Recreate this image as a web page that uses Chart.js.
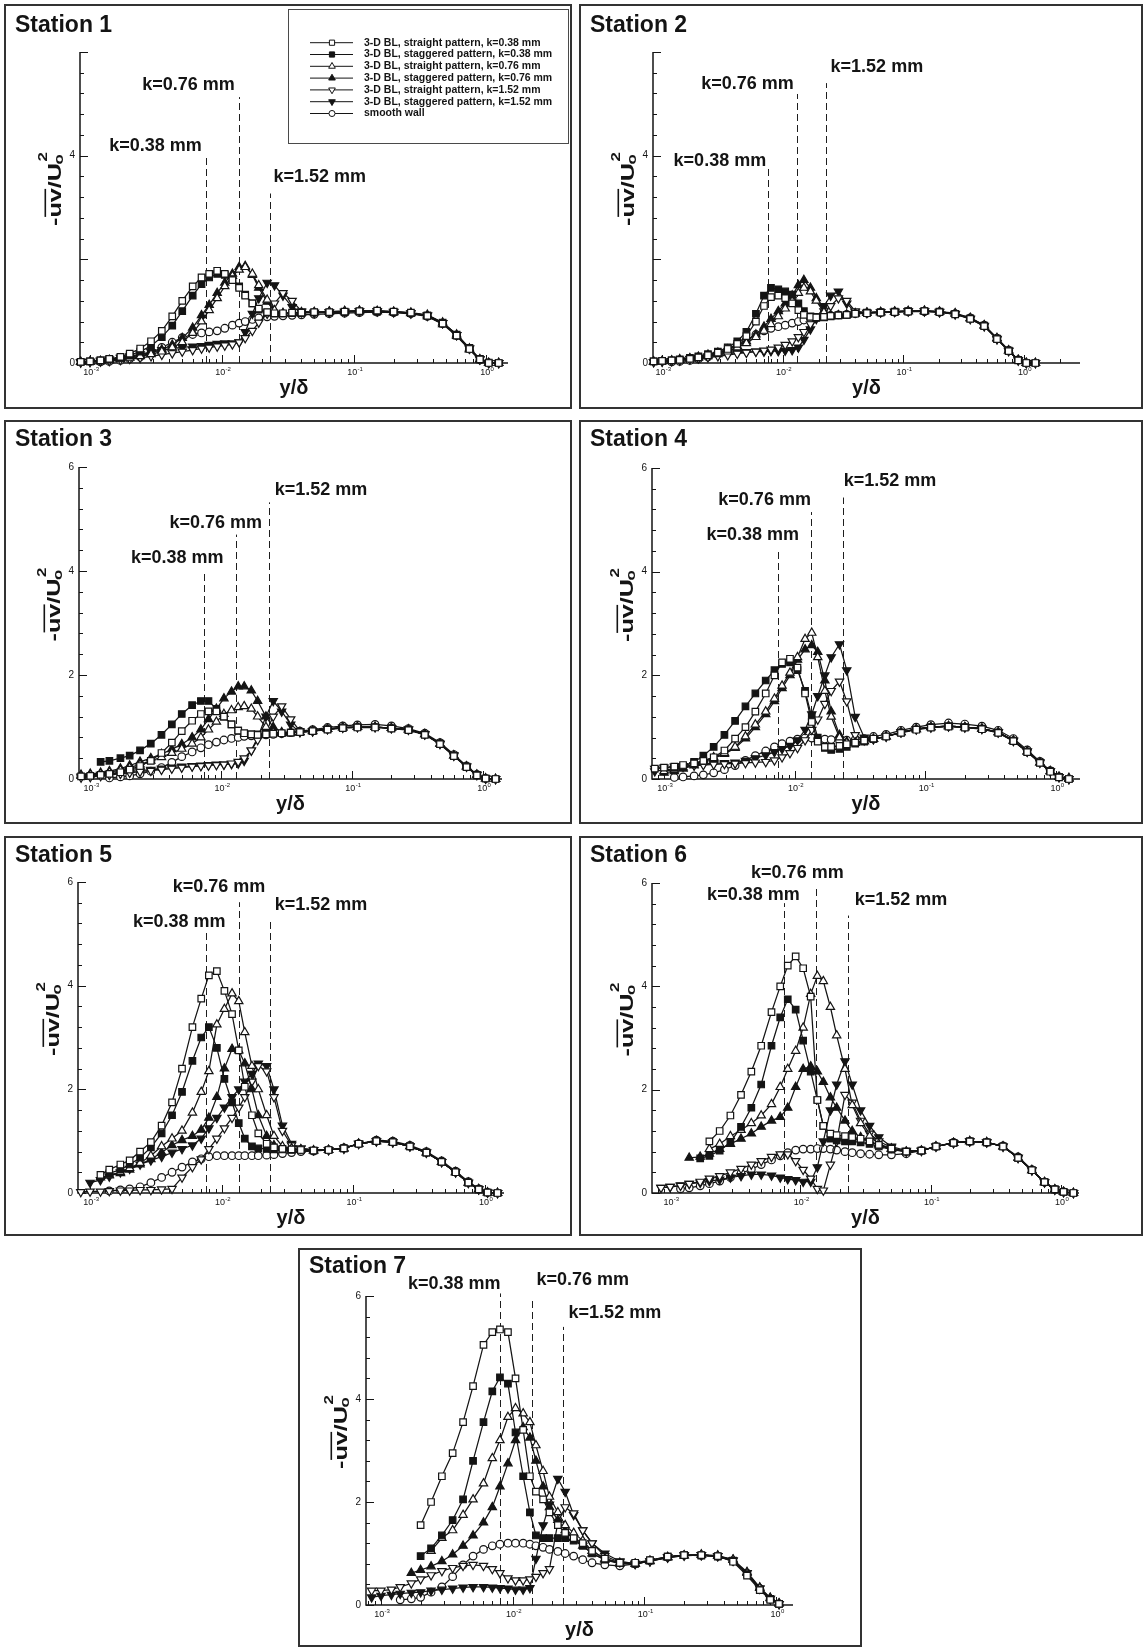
<!DOCTYPE html>
<html><head><meta charset="utf-8">
<script src="https://cdn.jsdelivr.net/npm/chart.js@4.4.1/dist/chart.umd.min.js"></script>
<style>
html,body{margin:0;padding:0;background:#fff}
body{width:1145px;height:1647px;position:relative;overflow:hidden}
</style></head><body>
<script>
const n = null;
// y/delta sample positions
const GRID = [0.00085,0.001,0.0012,0.0014,0.0017,0.002,0.0024,0.0029,0.0035,0.0042,
0.005,0.006,0.007,0.008,0.0092,0.0105,0.012,0.0135,0.015,0.017,
0.019,0.022,0.025,0.029,0.034,0.04,0.05,0.065,0.085,0.11,
0.15,0.2,0.27,0.36,0.47,0.6,0.75,0.9,1.05,1.25];

const seriesNames = ['3-D BL, straight pattern, k=0.38 mm','3-D BL, staggered pattern, k=0.38 mm',
'3-D BL, straight pattern, k=0.76 mm','3-D BL, staggered pattern, k=0.76 mm',
'3-D BL, straight pattern, k=1.52 mm','3-D BL, staggered pattern, k=1.52 mm','smooth wall'];
const stationTitles = ['Station 1','Station 2','Station 3','Station 4','Station 5','Station 6','Station 7'];
const kLabels = ['k=0.38 mm','k=0.76 mm','k=1.52 mm'];
const xTickExp = [-3,-2,-1,0];
const yTickLabels = [[0,4],[0,4],[0,2,4,6],[0,2,4,6],[0,2,4,6],[0,2,4,6],[0,2,4,6]];
const xMin = [0.00084,0.00084,0.00082,0.00081,0.00081,0.000725,0.00077];
const xMax = [1.47,2.93,1.4,1.52,1.4,1.38,1.34];
const kX = [[0.0076,0.0135,0.0233],[0.0075,0.0132,0.0227],[0.0074,0.0131,0.0231],[0.0075,0.0134,0.0233],[0.0076,0.0135,0.0232],[0.0075,0.0132,0.0231],[0.008,0.0141,0.0239]];
const kTop = [[3.97,5.13,3.27],[3.79,5.19,5.4],[3.97,4.7,5.32],[4.42,5.15,5.43],[5.08,5.61,5.27],[5.61,5.91,5.37],[6.05,5.97,5.4]];
const kLabelY = [[4.19,5.36,3.58],[3.9,5.39,5.71],[4.25,4.92,5.56],[4.7,5.39,5.74],[5.22,5.9,5.56],[5.77,6.2,5.67],[6.23,6.31,5.66]];

// ---------- Station 1 ----------
const s1_str038 = [0.02,0.03,0.05,0.08,0.12,0.18,0.28,0.42,0.62,0.9, 1.2,1.48,1.65,1.72,1.78,1.72,1.6,1.45,1.3,1.15, 1.05,0.98,0.96,0.96,0.97,0.97,0.98,0.98,0.99,1.0, 1.01,0.99,0.97,0.91,0.76,0.53,0.27,0.07,0.0,0.0];
const s1_stg038 = [0.02,0.03,0.05,0.07,0.1,0.15,0.22,0.33,0.5,0.72, 1.0,1.3,1.52,1.65,1.72,1.7,1.62,1.48,1.32,1.15, 1.03,0.97,0.95,0.95,0.96,0.96,0.97,0.97,0.98,0.99, 0.99,0.98,0.96,0.92,0.78,0.55,0.29,0.08,0.01,0.0];
const s1_str076 = [0.02,0.02,0.03,0.05,0.07,0.1,0.13,0.17,0.22,0.3, 0.4,0.58,0.8,1.02,1.25,1.48,1.68,1.8,1.85,1.72, 1.5,1.22,1.02,0.96,0.96,0.97,0.98,0.99,1.0,1.0, 1.0,0.99,0.96,0.9,0.75,0.52,0.26,0.06,0.0,0.0];
const s1_stg076 = [0.02,0.03,0.04,0.06,0.08,0.11,0.15,0.2,0.26,0.35, 0.48,0.68,0.92,1.12,1.35,1.55,1.72,1.85,1.87,1.7, 1.45,1.18,1.0,0.96,0.97,0.98,0.98,0.99,1.0,1.01, 1.0,0.98,0.97,0.93,0.78,0.55,0.28,0.07,0.0,0.0];
const s1_str152 = [0.01,0.02,0.03,0.04,0.06,0.08,0.1,0.13,0.16,0.19, 0.22,0.25,0.28,0.3,0.32,0.34,0.36,0.4,0.48,0.62, 0.78,0.95,1.15,1.35,1.2,1.0,0.97,0.98,0.99,1.0, 1.0,0.99,0.96,0.91,0.77,0.54,0.28,0.07,0.0,0.0];
const s1_stg152 = [0.02,0.03,0.05,0.07,0.1,0.13,0.17,0.21,0.25,0.28, 0.3,0.32,0.33,0.35,0.37,0.38,0.38,0.4,0.6,0.95, 1.25,1.55,1.5,1.3,1.08,0.98,0.97,0.98,0.99,1.0, 1.0,0.98,0.96,0.92,0.77,0.54,0.28,0.07,0.0,0.0];
const s1_smooth = [n,n,0.02,0.03,0.05,0.08,0.12,0.2,0.3,0.4, 0.49,0.55,0.58,0.6,0.62,0.67,0.73,0.77,0.8,0.84, 0.87,0.89,0.9,0.91,0.92,0.93,0.94,0.95,0.96,0.97, 0.98,0.97,0.95,0.9,0.76,0.53,0.27,0.06,0.0,n];
// ---------- Station 2 ----------
const s2_str038 = [0.03,0.04,0.05,0.06,0.08,0.11,0.15,0.2,0.27,0.37, 0.52,0.8,1.1,1.27,1.3,1.25,1.15,1.02,0.93,0.89, 0.88,0.89,0.91,0.92,0.93,0.95,0.96,0.97,0.98,0.99, 1.0,0.98,0.94,0.85,0.71,0.46,0.23,0.05,0.0,0.0];
const s2_stg038 = [0.03,0.04,0.05,0.07,0.1,0.13,0.17,0.22,0.3,0.42, 0.6,0.95,1.3,1.45,1.42,1.38,1.32,1.15,1.0,0.9, 0.87,0.88,0.9,0.92,0.93,0.96,0.97,0.98,0.99,1.0, 1.0,0.99,0.95,0.86,0.72,0.47,0.24,0.06,0.0,0.0];
const s2_str076 = [0.02,0.03,0.04,0.06,0.08,0.1,0.13,0.17,0.22,0.3, 0.38,0.5,0.62,0.75,0.9,1.05,1.2,1.35,1.45,1.38, 1.2,0.98,0.9,0.91,0.93,0.95,0.97,0.98,0.99,1.0, 1.0,0.99,0.96,0.87,0.73,0.48,0.24,0.06,0.0,0.0];
const s2_stg076 = [0.03,0.04,0.05,0.07,0.09,0.12,0.16,0.2,0.26,0.33, 0.42,0.55,0.7,0.85,1.0,1.15,1.3,1.5,1.6,1.45, 1.25,1.0,0.92,0.92,0.93,0.96,0.97,0.98,0.99,1.0, 1.01,0.99,0.95,0.86,0.72,0.47,0.24,0.06,0.0,0.0];
const s2_str152 = [0.02,0.03,0.04,0.05,0.07,0.09,0.11,0.13,0.15,0.18, 0.2,0.22,0.24,0.26,0.3,0.35,0.42,0.5,0.6,0.75, 0.9,1.0,1.1,1.25,1.2,1.0,0.97,0.98,0.99,1.0, 1.0,0.98,0.94,0.85,0.71,0.46,0.23,0.05,0.0,0.0];
const s2_stg152 = [0.02,0.03,0.04,0.06,0.08,0.1,0.13,0.16,0.18,0.2, 0.21,0.22,0.22,0.23,0.23,0.24,0.25,0.3,0.45,0.65, 0.85,1.1,1.3,1.38,1.15,0.98,0.97,0.98,0.99,1.0, 1.0,0.99,0.95,0.86,0.72,0.47,0.24,0.06,0.0,0.0];
const s2_smooth = [n,n,0.02,0.03,0.05,0.08,0.12,0.18,0.26,0.36, 0.45,0.55,0.62,0.67,0.7,0.73,0.77,0.8,0.83,0.86, 0.88,0.9,0.92,0.93,0.94,0.95,0.96,0.97,0.98,0.99, 0.99,0.98,0.95,0.87,0.73,0.48,0.25,0.06,0.0,n];
// ---------- Station 3 ----------
const s3_str038 = [0.05,0.06,0.08,0.1,0.13,0.18,0.25,0.35,0.5,0.7, 0.92,1.12,1.25,1.3,1.3,1.2,1.05,0.93,0.88,0.86, 0.85,0.86,0.87,0.88,0.89,0.9,0.92,0.95,0.98,0.99, 0.99,0.97,0.94,0.85,0.67,0.44,0.23,0.07,0.01,0.0];
const s3_stg038 = [n,n,0.33,0.35,0.4,0.45,0.55,0.68,0.85,1.05, 1.25,1.42,1.5,1.5,1.35,1.2,1.05,0.93,0.88,0.86, 0.86,0.87,0.88,0.88,0.89,0.9,0.92,0.96,0.99,1.0, 1.0,0.98,0.95,0.86,0.68,0.45,0.24,0.08,0.01,0.0];
const s3_str076 = [0.06,0.08,0.1,0.13,0.17,0.22,0.28,0.35,0.42,0.5, 0.58,0.68,0.8,0.95,1.1,1.25,1.32,1.38,1.4,1.35, 1.2,1.0,0.9,0.88,0.89,0.9,0.93,0.96,0.99,1.0, 1.0,0.98,0.95,0.86,0.68,0.45,0.24,0.08,0.01,0.0];
const s3_stg076 = [0.08,0.1,0.12,0.15,0.2,0.26,0.33,0.4,0.48,0.57, 0.67,0.8,0.95,1.15,1.35,1.55,1.68,1.78,1.78,1.7, 1.5,1.2,1.0,0.9,0.89,0.9,0.92,0.96,0.99,1.0, 1.0,0.98,0.95,0.86,0.68,0.45,0.24,0.08,0.01,0.0];
const s3_str152 = [0.03,0.04,0.06,0.08,0.1,0.12,0.14,0.16,0.18,0.2, 0.22,0.24,0.25,0.26,0.27,0.28,0.3,0.33,0.4,0.55, 0.75,0.9,1.2,1.4,1.15,0.92,0.92,0.96,0.99,1.0, 1.0,0.98,0.95,0.86,0.68,0.45,0.24,0.08,0.01,0.0];
const s3_stg152 = [0.05,0.06,0.08,0.1,0.12,0.14,0.16,0.18,0.2,0.22, 0.24,0.25,0.26,0.27,0.28,0.28,0.29,0.3,0.35,0.55, 0.8,1.2,1.5,1.3,1.05,0.9,0.92,0.96,0.99,1.0, 1.0,0.98,0.95,0.86,0.68,0.45,0.24,0.08,0.01,0.0];
const s3_smooth = [n,n,n,0.02,0.04,0.06,0.1,0.15,0.22,0.32, 0.43,0.52,0.6,0.66,0.71,0.75,0.78,0.8,0.82,0.83, 0.84,0.85,0.86,0.87,0.89,0.92,0.95,0.99,1.02,1.04, 1.05,1.02,0.97,0.88,0.7,0.47,0.25,0.09,0.01,n];
// ---------- Station 4 ----------
const s4_str038 = [0.2,0.22,0.24,0.27,0.3,0.35,0.42,0.55,0.78,1.0, 1.3,1.65,2.0,2.25,2.32,2.15,1.65,1.1,0.72,0.62, 0.62,0.64,0.67,0.7,0.74,0.78,0.82,0.89,0.95,0.99, 1.01,0.99,0.96,0.89,0.73,0.52,0.31,0.14,0.03,0.0];
const s4_stg038 = [n,n,0.22,0.25,0.33,0.45,0.62,0.85,1.12,1.4, 1.65,1.9,2.1,2.22,2.25,2.1,1.7,1.2,0.8,0.6, 0.56,0.58,0.62,0.68,0.72,0.77,0.82,0.9,0.96,1.0, 1.02,1.0,0.97,0.9,0.74,0.53,0.32,0.15,0.04,0.0];
const s4_str076 = [n,0.15,0.18,0.22,0.28,0.35,0.42,0.5,0.62,0.82, 1.05,1.3,1.55,1.8,2.05,2.35,2.7,2.82,2.35,1.7, 1.2,0.8,0.7,0.7,0.73,0.77,0.82,0.9,0.96,1.0, 1.02,1.0,0.97,0.9,0.74,0.53,0.32,0.15,0.04,0.0];
const s4_stg076 = [n,0.12,0.15,0.2,0.26,0.33,0.4,0.48,0.6,0.78, 1.0,1.25,1.5,1.75,2.0,2.3,2.5,2.58,2.45,1.9, 1.3,0.85,0.72,0.7,0.73,0.77,0.82,0.9,0.96,1.0, 1.02,1.0,0.97,0.9,0.74,0.53,0.32,0.15,0.04,0.02];
const s4_str152 = [0.2,0.22,0.24,0.25,0.26,0.27,0.28,0.29,0.3,0.31, 0.32,0.33,0.36,0.42,0.5,0.6,0.75,0.95,1.15,1.45, 1.7,1.88,1.5,0.85,0.75,0.77,0.82,0.9,0.96,1.0, 1.02,1.0,0.97,0.9,0.74,0.53,0.32,0.15,0.04,0.0];
const s4_stg152 = [0.15,0.17,0.2,0.24,0.27,0.29,0.3,0.31,0.32,0.35, 0.4,0.46,0.52,0.58,0.64,0.75,0.95,1.25,1.6,2.0, 2.35,2.6,2.1,1.2,0.8,0.77,0.82,0.9,0.96,1.0, 1.02,1.0,0.97,0.9,0.74,0.53,0.32,0.15,0.04,0.0];
const s4_smooth = [n,n,0.03,0.04,0.06,0.08,0.12,0.18,0.26,0.36, 0.45,0.54,0.62,0.68,0.73,0.77,0.79,0.79,0.78,0.77, 0.76,0.75,0.75,0.76,0.78,0.82,0.86,0.94,1.0,1.05, 1.08,1.06,1.02,0.94,0.78,0.56,0.34,0.16,0.04,n];
// ---------- Station 5 ----------
const s5_str038 = [n,n,0.35,0.45,0.55,0.63,0.8,0.98,1.3,1.75, 2.4,3.2,3.75,4.2,4.28,3.9,3.45,2.75,2.05,1.5, 1.15,0.95,0.88,0.85,0.84,0.83,0.82,0.83,0.86,0.95, 1.0,0.98,0.9,0.78,0.6,0.4,0.2,0.07,0.01,0.0];
const s5_stg038 = [n,n,n,0.38,0.45,0.55,0.68,0.88,1.15,1.5, 1.95,2.55,3.0,3.2,2.8,2.2,1.75,1.35,1.05,0.9, 0.86,0.85,0.84,0.84,0.83,0.83,0.82,0.83,0.86,0.95, 1.0,0.98,0.9,0.78,0.6,0.4,0.2,0.07,0.01,0.0];
const s5_str076 = [n,n,n,0.35,0.4,0.48,0.58,0.72,0.9,1.05, 1.2,1.55,1.95,2.35,3.25,3.55,3.85,3.7,3.1,2.45, 2.0,1.5,1.1,0.9,0.86,0.84,0.82,0.83,0.86,0.95, 1.0,0.98,0.9,0.78,0.6,0.4,0.2,0.07,0.01,0.0];
const s5_stg076 = [n,n,0.3,0.34,0.38,0.45,0.55,0.65,0.78,0.92, 1.02,1.1,1.22,1.45,1.85,2.4,2.78,2.75,2.5,2.0, 1.5,1.1,0.92,0.87,0.85,0.84,0.82,0.83,0.86,0.95, 1.0,0.98,0.9,0.78,0.6,0.4,0.2,0.07,0.01,0.0];
const s5_str152 = [0.02,0.03,0.03,0.04,0.05,0.05,0.06,0.06,0.07,0.08, 0.3,0.5,0.65,0.85,1.05,1.25,1.45,1.65,1.85,2.15, 2.45,2.35,1.85,1.2,0.92,0.86,0.83,0.83,0.86,0.95, 1.0,0.98,0.9,0.78,0.6,0.4,0.2,0.07,0.01,0.0];
const s5_stg152 = [n,0.2,0.25,0.32,0.4,0.47,0.55,0.63,0.7,0.78, 0.85,0.92,1.05,1.25,1.45,1.65,1.85,2.0,2.15,2.3, 2.5,2.45,2.0,1.3,0.95,0.86,0.83,0.83,0.86,0.95, 1.0,0.98,0.9,0.78,0.6,0.4,0.2,0.07,0.01,0.0];
const s5_smooth = [n,n,n,0.04,0.06,0.08,0.12,0.2,0.3,0.4, 0.5,0.6,0.66,0.7,0.72,0.72,0.72,0.72,0.72,0.72, 0.72,0.73,0.74,0.76,0.78,0.8,0.81,0.83,0.87,0.95, 1.02,1.0,0.92,0.8,0.62,0.42,0.22,0.08,0.01,n];
// ---------- Station 6 ----------
const s6_str038 = [n,n,n,n,n,1.0,1.2,1.5,1.9,2.35, 2.85,3.5,4.0,4.4,4.58,4.35,3.8,1.8,1.3,1.15, 1.12,1.1,1.08,1.05,1.0,0.93,0.86,0.8,0.82,0.9, 0.97,1.0,0.98,0.9,0.68,0.44,0.21,0.07,0.02,0.0];
const s6_stg038 = [n,n,n,n,0.67,0.72,0.82,0.98,1.28,1.65, 2.1,2.85,3.4,3.75,3.55,2.95,2.35,1.8,1.3,1.05, 1.02,1.0,1.0,0.98,0.95,0.9,0.84,0.8,0.82,0.9, 0.97,1.0,0.98,0.9,0.68,0.44,0.21,0.07,0.02,0.0];
const s6_str076 = [n,n,n,n,n,0.85,0.95,1.1,1.22,1.35, 1.5,1.72,2.05,2.4,2.75,3.2,3.85,4.2,4.1,3.6, 3.05,2.4,1.7,1.35,1.1,0.95,0.86,0.8,0.82,0.9, 0.97,1.0,0.98,0.9,0.68,0.44,0.21,0.07,0.02,0.0];
const s6_stg076 = [n,n,n,0.68,0.7,0.76,0.85,0.95,1.05,1.15, 1.28,1.4,1.47,1.65,2.05,2.4,2.45,2.35,2.15,1.85, 1.65,1.4,1.2,1.08,1.0,0.92,0.85,0.8,0.82,0.9, 0.97,1.0,0.98,0.9,0.68,0.44,0.21,0.07,0.02,0.0];
const s6_str152 = [0.1,0.12,0.14,0.18,0.22,0.28,0.33,0.4,0.47,0.55, 0.62,0.7,0.75,0.75,0.62,0.45,0.28,0.08,0.05,0.55, 1.0,1.9,1.75,1.4,1.15,1.0,0.88,0.8,0.82,0.9, 0.97,1.0,0.98,0.9,0.68,0.44,0.21,0.07,0.02,0.0];
const s6_stg152 = [0.1,0.12,0.15,0.18,0.2,0.23,0.26,0.3,0.33,0.36, 0.36,0.34,0.3,0.27,0.25,0.22,0.22,0.5,1.0,1.6, 2.1,2.55,2.1,1.6,1.3,1.08,0.9,0.82,0.82,0.9, 0.97,1.0,0.98,0.9,0.68,0.44,0.21,0.07,0.02,0.0];
const s6_smooth = [n,n,0.08,0.1,0.14,0.18,0.23,0.3,0.38,0.46, 0.55,0.64,0.72,0.78,0.83,0.85,0.85,0.86,0.86,0.85, 0.83,0.8,0.78,0.76,0.75,0.74,0.74,0.76,0.82,0.9, 0.98,1.0,0.98,0.91,0.7,0.45,0.21,0.07,0.02,n];
// ---------- Station 7 ----------
const s7_str038 = [n,n,n,n,n,1.55,2.0,2.5,2.95,3.55, 4.25,5.05,5.3,5.35,5.3,4.4,3.4,2.5,2.2,2.05, 1.8,1.55,1.4,1.3,1.2,1.05,0.9,0.82,0.82,0.87, 0.94,0.97,0.97,0.95,0.84,0.57,0.29,0.1,0.02,n];
const s7_stg038 = [n,n,n,n,n,0.95,1.1,1.35,1.65,2.05, 2.8,3.55,4.15,4.42,4.3,3.35,2.5,1.8,1.35,1.3, 1.3,1.3,1.3,1.25,1.15,1.0,0.88,0.82,0.8,0.86, 0.94,0.97,0.96,0.94,0.86,0.6,0.3,0.12,0.02,n];
const s7_str076 = [n,n,n,n,n,n,1.05,1.3,1.45,1.75, 2.05,2.36,2.85,3.2,3.65,3.82,3.72,3.55,3.1,2.6, 2.1,1.8,1.55,1.4,1.25,1.05,0.9,0.82,0.8,0.86, 0.93,0.96,0.97,0.95,0.88,0.62,0.33,0.13,0.03,n];
const s7_stg076 = [n,n,n,n,0.62,0.68,0.75,0.85,0.98,1.15, 1.35,1.6,1.9,2.3,2.75,3.2,3.45,3.25,2.8,2.3, 1.9,1.65,1.45,1.3,1.15,1.0,0.88,0.8,0.8,0.85, 0.92,0.96,0.98,0.96,0.88,0.64,0.34,0.14,0.03,n];
const s7_str152 = [0.28,0.28,0.3,0.35,0.42,0.5,0.58,0.66,0.72,0.76, 0.78,0.76,0.7,0.62,0.52,0.48,0.48,0.5,0.55,0.62, 0.7,1.6,1.9,1.78,1.45,1.2,0.95,0.83,0.8,0.85, 0.93,0.97,0.97,0.95,0.86,0.62,0.32,0.12,0.02,n];
const s7_stg152 = [0.15,0.18,0.2,0.22,0.24,0.25,0.28,0.3,0.32,0.34, 0.35,0.35,0.34,0.33,0.32,0.3,0.3,0.33,0.9,1.55, 1.95,2.45,2.2,1.75,1.45,1.2,1.0,0.85,0.8,0.85, 0.92,0.96,0.97,0.95,0.87,0.62,0.32,0.12,0.02,n];
const s7_smooth = [n,n,n,0.1,0.12,0.15,0.25,0.35,0.55,0.78, 0.95,1.08,1.15,1.18,1.2,1.2,1.2,1.18,1.15,1.12, 1.08,1.04,1.0,0.95,0.88,0.82,0.78,0.76,0.8,0.86, 0.93,0.97,0.97,0.95,0.85,0.62,0.32,0.12,0.02,n];

const SERIES = [
 [s1_str038,s1_stg038,s1_str076,s1_stg076,s1_str152,s1_stg152,s1_smooth],
 [s2_str038,s2_stg038,s2_str076,s2_stg076,s2_str152,s2_stg152,s2_smooth],
 [s3_str038,s3_stg038,s3_str076,s3_stg076,s3_str152,s3_stg152,s3_smooth],
 [s4_str038,s4_stg038,s4_str076,s4_stg076,s4_str152,s4_stg152,s4_smooth],
 [s5_str038,s5_stg038,s5_str076,s5_stg076,s5_str152,s5_stg152,s5_smooth],
 [s6_str038,s6_stg038,s6_str076,s6_stg076,s6_str152,s6_stg152,s6_smooth],
 [s7_str038,s7_stg038,s7_str076,s7_stg076,s7_str152,s7_stg152,s7_smooth]
];

// ---------- layout & styles ----------
const PANELS = [
 {x:4,  y:4,    w:568, h:405, L:76, R:504, T:48, B:359, tb:28, kdx:[-97,-97,3]},
 {x:579,y:4,    w:564, h:405, L:74, R:501, T:48, B:359, tb:28, kdx:[-94,-96,5]},
 {x:4,  y:420,  w:568, h:404, L:75, R:498, T:47, B:359, tb:26, kdx:[-73,-67,6]},
 {x:579,y:420,  w:564, h:404, L:73, R:501, T:48, B:359, tb:26, kdx:[-72,-93,1]},
 {x:4,  y:836,  w:568, h:400, L:74, R:500, T:46, B:357, tb:26, kdx:[-73,-66,5]},
 {x:579,y:836,  w:564, h:400, L:73, R:500, T:47, B:357, tb:26, kdx:[-77,-65,7]},
 {x:298,y:1248, w:564, h:399, L:68, R:495, T:48, B:357, tb:25, kdx:[-92,4,6]}
];
const MARK = [
 {ps:'rect', fill:false, rot:0, r:4.6},
 {ps:'rect', fill:true, rot:0, r:4.6},
 {ps:'triangle', fill:false, rot:0, r:4.8},
 {ps:'triangle', fill:true, rot:0, r:4.8},
 {ps:'triangle', fill:false, rot:180, r:4.8},
 {ps:'triangle', fill:true, rot:180, r:4.8},
 {ps:'circle', fill:false, rot:0, r:3.8}
];
const FONT = '"Liberation Sans", Arial, Helvetica, sans-serif';
const INK = '#141414';

function drawYTitle(ctx, cx, cy){
  ctx.save();
  ctx.translate(cx, cy);
  ctx.rotate(-Math.PI/2);
  ctx.scale(1.4, 1);
  const big = 'bold 18px ' + FONT, small = 'bold 12px ' + FONT;
  ctx.font = big;
  const w1 = ctx.measureText('-').width, w2 = ctx.measureText('uv').width, w3 = ctx.measureText('/U').width;
  ctx.font = small;
  const w4 = ctx.measureText('o').width, w5 = ctx.measureText('2').width;
  let x = -(w1 + w2 + w3 + w4 + w5 * 0.4) / 2;
  const base = 6.5;
  ctx.fillStyle = INK; ctx.textAlign = 'left'; ctx.textBaseline = 'alphabetic';
  ctx.font = big;
  ctx.fillText('-', x, base); x += w1;
  ctx.fillText('uv', x, base);
  ctx.fillRect(x + 0.5, base - 16, w2 - 1, 1.6);
  x += w2;
  ctx.fillText('/U', x, base); x += w3;
  ctx.font = small;
  ctx.fillText('o', x - 1, base + 2);
  ctx.fillText('2', x + 1, base - 14);
  ctx.restore();
}

function makeDeco(si){
  const m = PANELS[si];
  return {
    id: 'deco' + si,
    beforeDatasetsDraw(chart){
      const ctx = chart.ctx, ca = chart.chartArea, xs = chart.scales.x, ys = chart.scales.y;
      ctx.save();
      // panel frame
      ctx.strokeStyle = '#333'; ctx.lineWidth = 2; ctx.setLineDash([]);
      ctx.strokeRect(1, 1, chart.width - 2, chart.height - 2);
      // title
      ctx.fillStyle = INK; ctx.font = 'bold 23px ' + FONT; ctx.textAlign = 'left'; ctx.textBaseline = 'alphabetic';
      ctx.fillText(stationTitles[si], 11, m.tb);
      // dashed roughness lines and labels
      ctx.strokeStyle = '#1e1e1e'; ctx.lineWidth = 1; ctx.setLineDash([7, 4]);
      for (let j = 0; j < 3; j++){
        const px = Math.round(xs.getPixelForValue(kX[si][j])) + 0.5;
        const pt = ys.getPixelForValue(kTop[si][j]);
        ctx.beginPath(); ctx.moveTo(px, ca.bottom); ctx.lineTo(px, pt); ctx.stroke();
      }
      ctx.setLineDash([]);
      ctx.font = 'bold 18px ' + FONT; ctx.textBaseline = 'middle'; ctx.textAlign = 'left'; ctx.fillStyle = INK;
      for (let j = 0; j < 3; j++){
        const px = xs.getPixelForValue(kX[si][j]);
        ctx.fillText(kLabels[j], px + m.kdx[j], ys.getPixelForValue(kLabelY[si][j]));
      }
      // axes
      ctx.strokeStyle = INK; ctx.lineWidth = 1.5;
      ctx.beginPath(); ctx.moveTo(ca.left, ca.top); ctx.lineTo(ca.left, ca.bottom); ctx.lineTo(ca.right, ca.bottom); ctx.stroke();
      ctx.lineWidth = 1;
      for (let i = 0; i <= 15; i++){
        const py = Math.round(ys.getPixelForValue(i * 0.4)) + 0.5;
        const len = i % 5 === 0 ? 8 : 4;
        ctx.beginPath(); ctx.moveTo(ca.left, py); ctx.lineTo(ca.left + len, py); ctx.stroke();
      }
      for (let e = -4; e <= 1; e++){
        for (let k = 1; k <= 9; k++){
          const v = k * Math.pow(10, e);
          if (v < xs.min * 1.0001 || v > xs.max * 0.9999) continue;
          const px = Math.round(xs.getPixelForValue(v)) + 0.5;
          const len = k === 1 ? 8 : 4;
          ctx.beginPath(); ctx.moveTo(px, ca.bottom); ctx.lineTo(px, ca.bottom - len); ctx.stroke();
        }
      }
      // tick labels
      ctx.fillStyle = INK; ctx.font = '10px ' + FONT; ctx.textAlign = 'right'; ctx.textBaseline = 'middle';
      yTickLabels[si].forEach(v => ctx.fillText(String(v), ca.left - 5, ys.getPixelForValue(v)));
      ctx.textAlign = 'left'; ctx.textBaseline = 'alphabetic';
      xTickExp.forEach(e => {
        const px = xs.getPixelForValue(Math.pow(10, e));
        ctx.font = '9px ' + FONT; const w = ctx.measureText('10').width;
        const es = String(e);
        ctx.font = '6px ' + FONT; const we = ctx.measureText(es).width;
        const x0 = px - (w + we) / 2 + 1;
        ctx.font = '9px ' + FONT; ctx.fillText('10', x0, ca.bottom + 12);
        ctx.font = '6px ' + FONT; ctx.fillText(es, x0 + w + 0.3, ca.bottom + 8);
      });
      // axis titles
      ctx.font = 'bold 20px ' + FONT; ctx.textAlign = 'center'; ctx.textBaseline = 'alphabetic';
      ctx.fillText('y/\u03B4', (ca.left + ca.right) / 2, ca.bottom + 31);
      drawYTitle(ctx, ca.left - 26, (ca.top + ca.bottom) / 2 - 20);
      ctx.restore();
    },
    afterDatasetsDraw(chart){
      if (si !== 0) return;
      const ctx = chart.ctx;
      ctx.save();
      ctx.fillStyle = '#fff';
      ctx.strokeStyle = '#4a4a4a'; ctx.lineWidth = 1; ctx.setLineDash([]);
      ctx.fillRect(284.5, 5.5, 280, 134);
      ctx.strokeRect(284.5, 5.5, 280, 134);
      ctx.font = 'bold 10.5px ' + FONT; ctx.textAlign = 'left'; ctx.textBaseline = 'middle';
      seriesNames.forEach((name, k) => {
        const y = 38.7 + k * 11.8;
        ctx.strokeStyle = INK; ctx.lineWidth = 1;
        ctx.beginPath(); ctx.moveTo(306, y); ctx.lineTo(349, y); ctx.stroke();
        const st = MARK[k];
        ctx.fillStyle = st.fill ? INK : '#fff';
        Chart.helpers.drawPoint(ctx, {pointStyle: st.ps, rotation: st.rot, radius: st.r * 0.8, borderWidth: 1}, 328, y);
        ctx.fillStyle = INK;
        ctx.fillText(name, 360, y);
      });
      ctx.restore();
    }
  };
}

PANELS.forEach((m, si) => {
  const cv = document.createElement('canvas');
  cv.width = m.w; cv.height = m.h;
  cv.style.cssText = 'position:absolute;left:' + m.x + 'px;top:' + m.y + 'px;width:' + m.w + 'px;height:' + m.h + 'px';
  document.body.appendChild(cv);
  const datasets = SERIES[si].map((arr, k) => {
    const st = MARK[k];
    return {
      label: seriesNames[k],
      data: GRID.map((x, i) => ({x: x, y: arr[i]})).filter(p => p.y !== null),
      borderColor: INK, borderWidth: 1.25, backgroundColor: st.fill ? INK : '#fff',
      pointStyle: st.ps, pointRotation: st.rot, pointRadius: st.r, pointHoverRadius: st.r,
      pointBorderWidth: 1.2, pointBackgroundColor: st.fill ? INK : '#fff', pointBorderColor: INK,
      tension: 0, clip: false, fill: false
    };
  });
  new Chart(cv, {
    type: 'line',
    data: {datasets: datasets},
    options: {
      responsive: false, animation: false, devicePixelRatio: 1, events: [],
      layout: {padding: {left: 0, top: m.T, right: m.w - m.R, bottom: 0}},
      plugins: {legend: {display: false}, tooltip: {enabled: false}, title: {display: false}},
      scales: {
        x: {type: 'logarithmic', min: xMin[si], max: xMax[si], ticks: {display: false}, grid: {display: false}, border: {display: false},
            afterFit: function(s){ s.height = m.h - m.B; }},
        y: {type: 'linear', min: 0, max: 6, ticks: {display: false}, grid: {display: false}, border: {display: false},
            afterFit: function(s){ s.width = m.L; }}
      }
    },
    plugins: [makeDeco(si)]
  });
});
</script>
</body></html>
